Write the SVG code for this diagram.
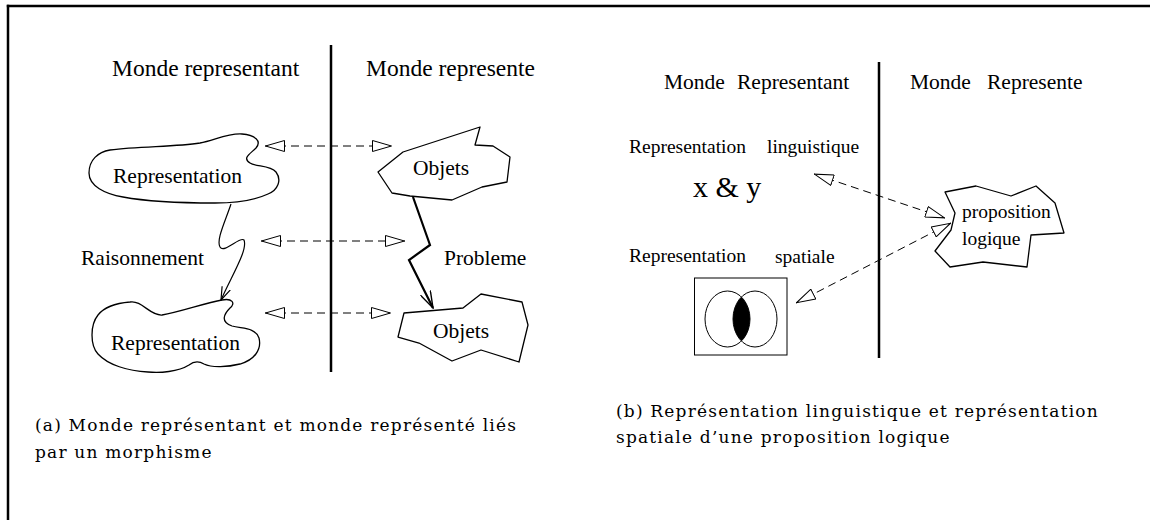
<svg xmlns="http://www.w3.org/2000/svg" width="1150" height="520" viewBox="0 0 1150 520">
  <style>
    .lbl { font-family: "Liberation Serif", "Times New Roman", serif; fill: #000; }
    .h1 { font-size: 23.5px; }
    .h2 { font-size: 21.5px; }
    .t1 { font-size: 21.5px; }
    .t2 { font-size: 19.5px; }
    .cap { font-family: "DejaVu Serif", serif; font-size: 17px; letter-spacing: 1.2px; fill: #000; }
    .shape { fill: none; stroke: #000; stroke-width: 1.3; stroke-linejoin: round; }
    .rule { stroke: #000; stroke-width: 2.5; fill: none; }
    .dash { stroke: #000; stroke-width: 1; stroke-dasharray: 8 5; fill: none; }
  </style>
  <defs>
    <marker id="openTri" viewBox="0 0 20 12" refX="20" refY="6" markerWidth="20" markerHeight="12" markerUnits="userSpaceOnUse" orient="auto-start-reverse">
      <path d="M0.5,0.5 L19.5,6 L0.5,11.5 Z" fill="#fff" stroke="#000" stroke-width="1"/>
    </marker>
    <marker id="vHead" viewBox="0 0 14 10" refX="13" refY="5" markerWidth="14" markerHeight="10" markerUnits="userSpaceOnUse" orient="auto">
      <path d="M0,0.5 L13,5 L0,9.5" fill="none" stroke="#000" stroke-width="1.2"/>
    </marker>
    <marker id="vHeadBold" viewBox="0 0 18 12" refX="17" refY="6" markerWidth="18" markerHeight="12" markerUnits="userSpaceOnUse" orient="auto">
      <path d="M0,0.5 L17,6 L0,11.5" fill="none" stroke="#000" stroke-width="1.4"/>
    </marker>
    <clipPath id="rightDisc">
      <ellipse cx="755" cy="319" rx="22" ry="28"/>
    </clipPath>
  </defs>

  <!-- outer frame (top and left edges) -->
  <g id="frame">
    <line x1="6.8" y1="6" x2="1150" y2="6" class="rule"/>
    <line x1="8" y1="4.8" x2="8" y2="520" class="rule"/>
  </g>

  <!-- panel (a) -->
  <g id="dividerA">
    <line x1="331" y1="45" x2="331" y2="372" class="rule"/>
  </g>
  <g id="headingA">
    <text class="lbl h1" x="112" y="76">Monde representant</text>
    <text class="lbl h1" x="366" y="76">Monde represente</text>
  </g>

  <g id="repTop">
    <path class="shape" d="M89,173 C89,160 98,152 110,150 C140,146 175,147 200,143 C215,140 228,133 242,134 C255,135 262,141 256,148 C250,154 242,158 250,163 C256,167 270,165 276,172 C282,180 278,190 268,194 C255,200 240,203 215,203 C190,203 150,202 123,197 C105,194 89,186 89,173 Z"/>
    <text class="lbl t1" x="113" y="183">Representation</text>
  </g>

  <g id="repBottom">
    <path class="shape" d="M130,302 C142,300 150,316 162,315 C180,312 205,303 222,300 C232,298 236,303 230,308 C224,314 220,322 232,326 C242,329 255,327 259,338 C262,350 254,360 240,364 C228,367 212,368 204,364 C199,361 194,361 189,365 C178,372 160,373 148,372 C128,371 108,365 98,354 C90,345 90,325 98,315 C105,306 118,303 130,302 Z"/>
    <text class="lbl t1" x="111" y="350">Representation</text>
  </g>

  <g id="objTop">
    <polygon class="shape" points="403,152 480,127 475,145 493,146 510,157 507,182 482,187 452,200 410,196 392,193 378,172"/>
    <text class="lbl t1" x="413" y="175">Objets</text>
  </g>

  <g id="objBottom">
    <polygon class="shape" points="404,313 463,308 481,294 522,302 528,325 519,362 481,350 452,361 419,343 398,337"/>
    <text class="lbl t1" x="433" y="338">Objets</text>
  </g>

  <g id="labelsA">
    <text class="lbl t1" x="81" y="265">Raisonnement</text>
    <text class="lbl t1" x="444" y="265">Probleme</text>
  </g>

  <!-- panel (b) -->
  <g id="dividerB">
    <line x1="879" y1="62" x2="879" y2="358" class="rule"/>
  </g>
  <g id="headingB">
    <text class="lbl h2" y="89"><tspan x="664">Monde</tspan><tspan x="737">Representant</tspan></text>
    <text class="lbl h2" y="89"><tspan x="910">Monde</tspan><tspan x="987">Represente</tspan></text>
  </g>

  <g id="linguistic">
    <text class="lbl t2" x="629" y="153">Representation</text>
    <text class="lbl t2" x="767" y="153">linguistique</text>
    <text class="lbl" style="font-size:30px" x="693" y="197">x &amp; y</text>
  </g>

  <g id="spatial">
    <text class="lbl t2" x="629" y="262">Representation</text>
    <text class="lbl t2" x="775" y="263">spatiale</text>
    <rect x="694.5" y="278" width="92.5" height="77" fill="none" stroke="#000" stroke-width="1"/>
    <ellipse cx="727.5" cy="319" rx="22.5" ry="28" fill="#000" clip-path="url(#rightDisc)"/>
    <ellipse cx="727.5" cy="319" rx="22.5" ry="28" fill="none" stroke="#000" stroke-width="1"/>
    <ellipse cx="755" cy="319" rx="22" ry="28" fill="none" stroke="#000" stroke-width="1"/>
  </g>

  <g id="proposition">
    <polygon class="shape" points="945,192 976,186 1011,196 1036,186 1055,203 1064,233 1031,235 1027,267 983,262 950,267 935,251 951,230 955,213"/>
    <text class="lbl t2" x="962" y="218">proposition</text>
    <text class="lbl t2" x="962" y="245">logique</text>
  </g>

  <!-- connectors -->
  <g id="connectors">
    <line class="dash" x1="265" y1="146" x2="392" y2="146" marker-start="url(#openTri)" marker-end="url(#openTri)"/>
    <line class="dash" x1="261" y1="241" x2="405" y2="241" marker-start="url(#openTri)" marker-end="url(#openTri)"/>
    <line class="dash" x1="265" y1="313" x2="391" y2="313" marker-start="url(#openTri)" marker-end="url(#openTri)"/>
    <path d="M231,204 C225,222 216,240 220,247 C224,254 240,236 244,240 C248,250 232,275 221,300" fill="none" stroke="#000" stroke-width="1.2" marker-end="url(#vHead)"/>
    <polyline points="413,197 430,245 409,260 433,308" fill="none" stroke="#000" stroke-width="2.2" stroke-linejoin="miter" marker-end="url(#vHeadBold)"/>
    <line class="dash" x1="814" y1="174" x2="945" y2="218" marker-start="url(#openTri)" marker-end="url(#openTri)"/>
    <line class="dash" x1="951" y1="223" x2="796" y2="303" marker-start="url(#openTri)" marker-end="url(#openTri)"/>
  </g>

  <!-- captions -->
  <g id="captions">
    <text class="cap" x="35" y="431">(a) Monde représentant et monde représenté liés</text>
    <text class="cap" x="35" y="458">par un morphisme</text>
    <text class="cap" x="616" y="417">(b) Représentation linguistique et représentation</text>
    <text class="cap" x="616" y="443">spatiale d’une proposition logique</text>
  </g>
</svg>
